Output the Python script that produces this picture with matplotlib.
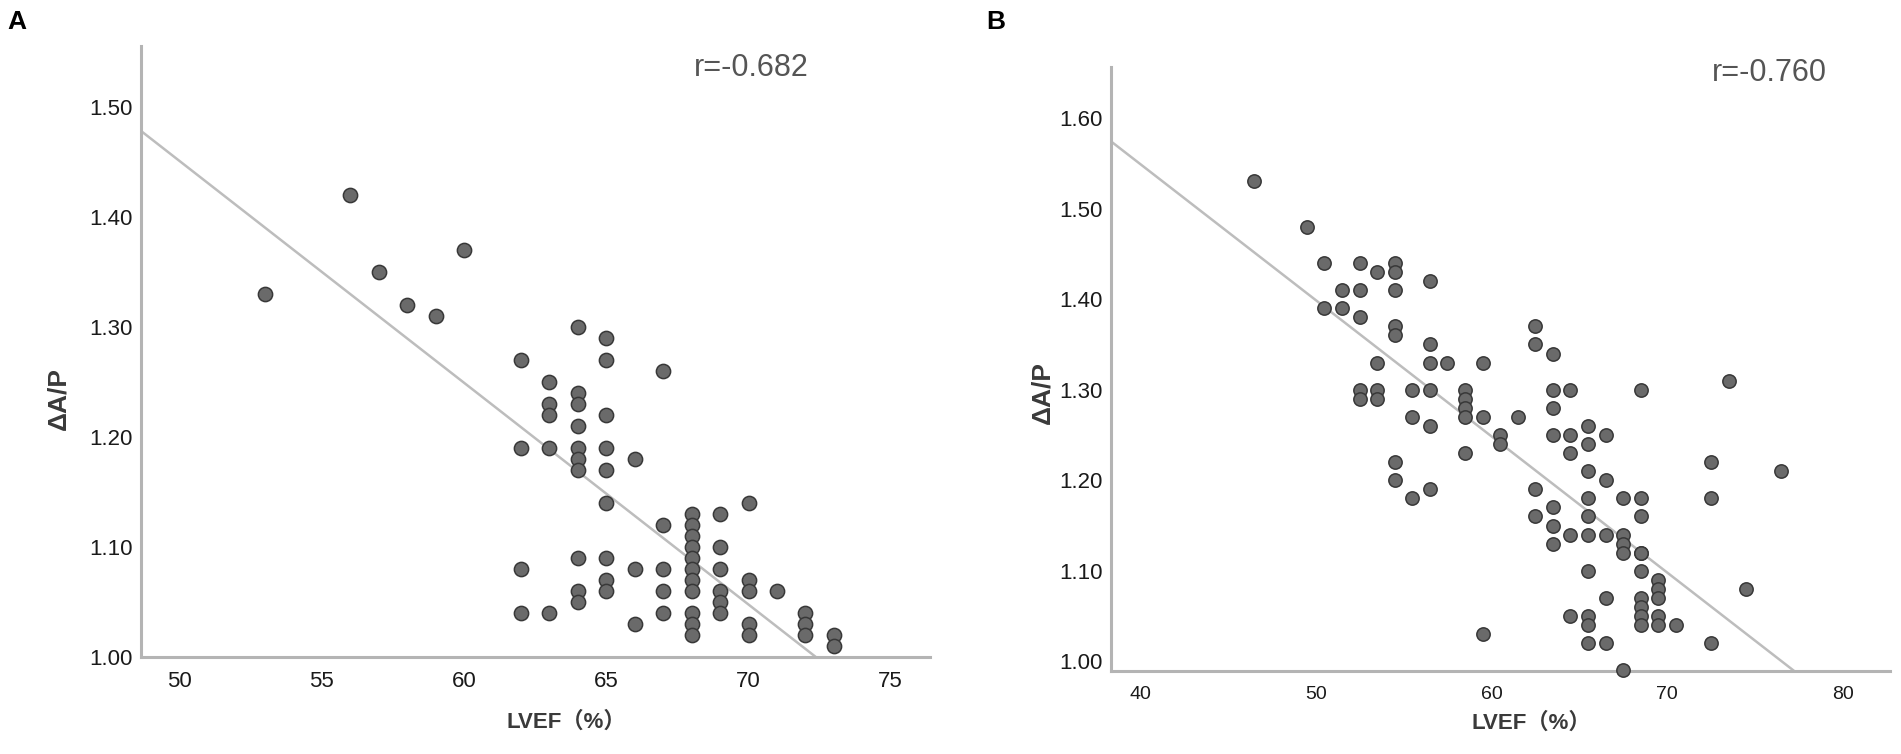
import numpy as np
import matplotlib
matplotlib.use("Agg")
import matplotlib.pyplot as plt

# ---------------- data ----------------
# Panel A: LVEF (%) vs ΔA/P
lvef_a = [53, 56, 57, 58, 59, 60,
          62, 62, 62, 62,
          63, 63, 63, 63, 63,
          64, 64, 64, 64, 64, 64, 64, 64, 64, 64,
          65, 65, 65, 65, 65, 65, 65, 65, 65,
          66, 66, 66,
          67, 67, 67, 67, 67,
          68, 68, 68, 68, 68, 68, 68, 68, 68, 68, 68,
          69, 69, 69, 69, 69, 69,
          70, 70, 70, 70, 70,
          71,
          72, 72, 72,
          73, 73]
dap_a = [1.33, 1.42, 1.35, 1.32, 1.31, 1.37,
         1.27, 1.19, 1.08, 1.04,
         1.25, 1.23, 1.22, 1.19, 1.04,
         1.30, 1.24, 1.23, 1.21, 1.19, 1.18, 1.17, 1.09, 1.06, 1.05,
         1.29, 1.27, 1.22, 1.19, 1.17, 1.14, 1.09, 1.07, 1.06,
         1.18, 1.08, 1.03,
         1.26, 1.12, 1.08, 1.06, 1.04,
         1.13, 1.12, 1.11, 1.10, 1.09, 1.08, 1.07, 1.06, 1.04, 1.03, 1.02,
         1.13, 1.10, 1.08, 1.06, 1.05, 1.04,
         1.14, 1.07, 1.06, 1.03, 1.02,
         1.06,
         1.04, 1.03, 1.02,
         1.02, 1.01]

# Panel B: LVEF (%) vs ΔA/P
lvef_b = [46.5, 49.5,
          50.5, 50.5,
          51.5, 51.5,
          52.5, 52.5, 52.5, 52.5, 52.5,
          53.5, 53.5, 53.5, 53.5,
          54.5, 54.5, 54.5, 54.5, 54.5, 54.5, 54.5,
          55.5, 55.5, 55.5,
          56.5, 56.5, 56.5, 56.5, 56.5, 56.5,
          57.5,
          58.5, 58.5, 58.5, 58.5, 58.5,
          59.5, 59.5, 59.5,
          60.5, 60.5,
          61.5,
          62.5, 62.5, 62.5, 62.5,
          63.5, 63.5, 63.5, 63.5, 63.5, 63.5, 63.5,
          64.5, 64.5, 64.5, 64.5, 64.5,
          65.5, 65.5, 65.5, 65.5, 65.5, 65.5, 65.5, 65.5, 65.5, 65.5,
          66.5, 66.5, 66.5, 66.5, 66.5,
          67.5, 67.5, 67.5, 67.5, 67.5,
          68.5, 68.5, 68.5, 68.5, 68.5, 68.5, 68.5, 68.5, 68.5, 68.5,
          69.5, 69.5, 69.5, 69.5, 69.5,
          70.5,
          72.5, 72.5, 72.5,
          73.5,
          74.5,
          76.5]
dap_b = [1.53, 1.48,
         1.44, 1.39,
         1.41, 1.39,
         1.44, 1.41, 1.38, 1.30, 1.29,
         1.43, 1.33, 1.30, 1.29,
         1.44, 1.43, 1.41, 1.37, 1.36, 1.22, 1.20,
         1.30, 1.27, 1.18,
         1.42, 1.35, 1.33, 1.30, 1.26, 1.19,
         1.33,
         1.30, 1.29, 1.28, 1.27, 1.23,
         1.33, 1.27, 1.03,
         1.25, 1.24,
         1.27,
         1.37, 1.35, 1.19, 1.16,
         1.34, 1.30, 1.28, 1.25, 1.17, 1.15, 1.13,
         1.30, 1.25, 1.23, 1.14, 1.05,
         1.26, 1.24, 1.21, 1.18, 1.16, 1.14, 1.10, 1.05, 1.04, 1.02,
         1.25, 1.20, 1.14, 1.07, 1.02,
         1.18, 1.14, 1.13, 1.12, 0.99,
         1.30, 1.18, 1.16, 1.12, 1.10, 1.07, 1.06, 1.05, 1.04, 1.12,
         1.09, 1.08, 1.07, 1.05, 1.04,
         1.04,
         1.22, 1.18, 1.02,
         1.31,
         1.08,
         1.21]

# fitted lines: (intercept, slope)
fit_a = (2.457, -0.02013)
fit_b = (2.151, -0.01504)
r_a = "r=-0.682"
r_b = "r=-0.760"

xticks_a = [50, 55, 60, 65, 70, 75]
yticks_a = [1.00, 1.10, 1.20, 1.30, 1.40, 1.50]
xticks_b = [40, 50, 60, 70, 80]
yticks_b = [1.00, 1.10, 1.20, 1.30, 1.40, 1.50, 1.60]

# ---------------- figure ----------------
W, H = 1901, 754
fig = plt.figure(figsize=(W / 100, H / 100), dpi=100)
plt.rcParams['font.family'] = ['Liberation Sans', 'Noto Sans CJK SC', 'DejaVu Sans']

spine_col = '#b4b4b4'
line_col = '#bdbdbd'
face_col = '#6a6a6a'
edge_col = '#383838'
tick_col = '#1a1a1a'
label_col = '#3a3a3a'


def px_axes(l, t, r, b):
    return fig.add_axes([l / W, 1 - b / H, (r - l) / W, (b - t) / H])


def style(ax, xt, yt, xlim, ylim, xfs, yfs, xpad):
    ax.set_xlim(*xlim)
    ax.set_ylim(*ylim)
    for s in ('top', 'right'):
        ax.spines[s].set_visible(False)
    for s in ('left', 'bottom'):
        ax.spines[s].set_color(spine_col)
        ax.spines[s].set_linewidth(2.2)
    ax.set_xticks(xt)
    ax.set_xticklabels([str(v) for v in xt])
    ax.set_yticks(yt)
    ax.set_yticklabels([f"{v:.2f}" for v in yt])
    ax.tick_params(axis='x', length=0, pad=xpad, labelsize=xfs, colors=tick_col)
    ax.tick_params(axis='y', length=0, pad=6, labelsize=yfs, colors=tick_col)


# Panel A
axA = px_axes(141, 46, 930, 657.3)
style(axA, xticks_a, yticks_a, (48.64, 76.38), (1.00, 1.555), 16, 16, 10)
xs = np.array(axA.get_xlim())
axA.plot(xs, fit_a[0] + fit_a[1] * xs, color=line_col, lw=1.8, zorder=2)
axA.scatter(lvef_a, dap_a, s=105, c=face_col, edgecolors=edge_col,
            linewidths=1.1, zorder=3, clip_on=False)

# Panel B
axB = px_axes(1110.7, 67, 1890, 670.7)
style(axB, xticks_b, yticks_b, (38.33, 82.69), (0.9897, 1.6564), 14, 16, 11)
xs = np.array(axB.get_xlim())
axB.plot(xs, fit_b[0] + fit_b[1] * xs, color=line_col, lw=1.8, zorder=2)
axB.scatter(lvef_b, dap_b, s=92, c=face_col, edgecolors=edge_col,
            linewidths=1.1, zorder=3, clip_on=False)

# texts
def ftext(x, y, s, **kw):
    fig.text(x / W, 1 - y / H, s, **kw)

ftext(17, 22, "A", fontsize=19, fontweight='bold', color='black', ha='center', va='center')
ftext(996, 22, "B", fontsize=19, fontweight='bold', color='black', ha='center', va='center')

ftext(751, 68, r_a, fontsize=22, color='#555555', ha='center', va='center')
ftext(1769, 73, r_b, fontsize=22, color='#555555', ha='center', va='center')

ftext(58.5, 398, "ΔA/P", fontsize=19, fontweight='bold', color=label_col,
      rotation=90, ha='center', va='center')
ftext(1042, 392, "ΔA/P", fontsize=19, fontweight='bold', color=label_col,
      rotation=90, ha='center', va='center')

ftext(566, 722, "LVEF（%）", fontsize=16, fontweight='bold', color=label_col,
      ha='center', va='center')
ftext(1531, 723, "LVEF（%）", fontsize=16, fontweight='bold', color=label_col,
      ha='center', va='center')

fig.savefig("out.png", dpi=100, facecolor='white')
